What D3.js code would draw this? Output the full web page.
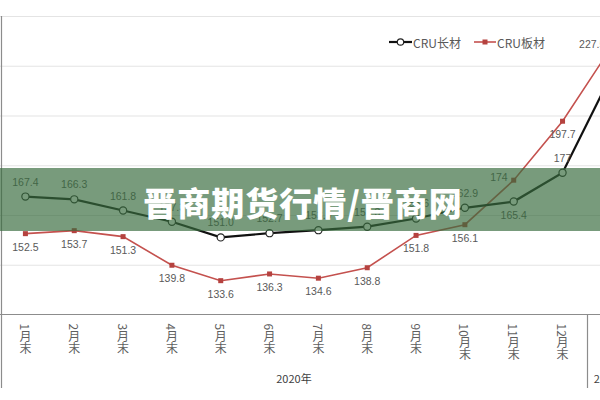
<!DOCTYPE html>
<html><head><meta charset="utf-8">
<script src="https://cdn.jsdelivr.net/npm/d3@7"></script>
<style>
html,body{margin:0;padding:0;background:#fff;}
svg{display:block;}
</style></head>
<body>
<svg id="chart" width="600" height="400"></svg>
<script>
// ---- data ----
const categories = ["1月末","2月末","3月末","4月末","5月末","6月末","7月末","8月末","9月末","10月末","11月末","12月末","1月末"];
const groupNames = ["2020年","2021年"];
const groupSizes = [12, 1];
const seriesNames = ["CRU长材","CRU板材"];
const longSteel = [167.4,166.3,161.8,157.3,151.0,152.7,153.9,155.3,158.6,162.9,165.4,177,216.4];
const flatSteel = [152.5,153.7,151.3,139.8,133.6,136.3,134.6,138.8,151.8,156.1,174,197.7,227.5];
const longLabels = ["167.4","166.3","161.8","157.3","151.0","152.7","153.9","155.3","158.6","162.9","165.4","177",""];
const flatLabels = ["152.5","153.7","151.3","139.8","133.6","136.3","134.6","138.8","151.8","156.1","174","197.7","227.5"];
const yTicks = [120,140,160,180,200,220,240];
const bannerText = "晋商期货行情/晋商网";

// label placement (style)
const longPos = ["t","t","t","t","t","t","t","t","t","t","b","t","t"];
const flatPos = ["b","b","b","b","b","b","b","b","b","b","l","b","l"];
const visibleCats = 12; // the 13th category lies beyond the right edge of the crop

const svg = d3.select("#chart");
const bandW = 48.83;
const x = d3.scaleBand().domain(d3.range(categories.length)).range([1, 1 + bandW*categories.length]).padding(0);
const cx = i => x(i) + x.bandwidth()/2;
const y = d3.scaleLinear().domain([120,240]).range([314.5,16]);

// gridlines
const grid = svg.append("g")
  .call(d3.axisLeft(y).tickValues(yTicks.slice(1)).tickSize(-620).tickFormat(""));
grid.select(".domain").remove();
grid.selectAll("line").attr("stroke","#e4e4e4").attr("stroke-width",1.2);

// x axis
const xAxisY = Math.round(y(120)) - 1;
const xa = svg.append("g").attr("transform",`translate(0,${xAxisY+0.5})`)
  .call(d3.axisBottom(x).tickSize(0).tickFormat(i => i < visibleCats ? categories[i] : ""));
xa.select(".domain").attr("stroke","#8c8c8c").attr("stroke-width",1.2).attr("d","M0,0H620");
xa.selectAll("text")
  .attr("y", 9).attr("x", 0).attr("dy", null)
  .style("writing-mode","vertical-rl")
  .attr("text-anchor","start")
  .attr("font-family","'Noto Sans CJK SC', sans-serif")
  .attr("font-size", 12)
  .attr("fill","#5f5f5f");

// group separators and labels
let acc = 0;
const sepX = [x(0)];
groupSizes.forEach((n,gi) => {
  const start = x(acc), end = x(acc+n-1) + x.bandwidth();
  sepX.push(end);
  svg.append("text").attr("x",(start+end)/2).attr("y",378)
    .attr("text-anchor","middle").attr("dominant-baseline","central")
    .attr("font-family","'Noto Sans CJK SC', sans-serif").attr("font-size",11)
    .attr("fill","#404040").text(groupNames[gi]);
  acc += n;
});
svg.selectAll("line.sep").data(sepX).enter().append("line")
  .attr("x1",d=>Math.round(d)+0.5).attr("x2",d=>Math.round(d)+0.5)
  .attr("y1",xAxisY).attr("y2",388)
  .attr("stroke","#8c8c8c").attr("stroke-width",1.2);
svg.append("line").attr("x1",1.5).attr("x2",1.5).attr("y1",16).attr("y2",xAxisY)
  .attr("stroke","#8c8c8c").attr("stroke-width",1.2);

// lines
const line = d3.line().x((d,i)=>cx(i)).y(d=>y(d));
const red = "#c4514e", black = "#111111";
svg.append("path").datum(flatSteel).attr("d",line).attr("fill","none")
  .attr("stroke",red).attr("stroke-width",1.6);
svg.append("path").datum(longSteel).attr("d",line).attr("fill","none")
  .attr("stroke",black).attr("stroke-width",2.2);

// markers
svg.selectAll("rect.fm").data(flatSteel).enter().append("rect")
  .attr("x",(d,i)=>cx(i)-2.5).attr("y",d=>y(d)-2.5).attr("width",5).attr("height",5)
  .attr("fill","#b5423f");
svg.selectAll("circle.lm").data(longSteel).enter().append("circle")
  .attr("cx",(d,i)=>cx(i)).attr("cy",d=>y(d)).attr("r",3.6)
  .attr("fill","#fff").attr("stroke","#222").attr("stroke-width",1.2);

// data labels
function placeLabels(vals, labels, pos) {
  svg.selectAll(null).data(vals).enter().filter((d,i)=>labels[i]!=="").append("text")
    .attr("x",(d,i)=> pos[i]==="l" ? cx(i)-6 : pos[i]==="r" ? cx(i)+6 : cx(i))
    .attr("y",(d,i)=> pos[i]==="t" ? y(d)-15 : pos[i]==="b" ? y(d)+13 : y(d)-3)
    .attr("text-anchor",(d,i)=> pos[i]==="l" ? "end" : pos[i]==="r" ? "start" : "middle")
    .attr("dominant-baseline","central")
    .attr("font-family","'Liberation Sans', Arial, sans-serif").attr("font-size",10.5)
    .attr("fill","#595959")
    .text((d,i)=>labels[i]);
}
placeLabels(longSteel, longLabels, longPos);
placeLabels(flatSteel, flatLabels, flatPos);

// legend
const lg = svg.append("g");
lg.append("line").attr("x1",389).attr("x2",412).attr("y1",42).attr("y2",42).attr("stroke",black).attr("stroke-width",2.2);
lg.append("circle").attr("cx",400.5).attr("cy",42).attr("r",3.2).attr("fill","#fff").attr("stroke","#222").attr("stroke-width",1.2);
lg.append("text").attr("x",413).attr("y",42).attr("dominant-baseline","central")
  .attr("font-family","'Noto Sans CJK SC', sans-serif").attr("font-size",12).attr("fill","#595959").text(seriesNames[0]);
lg.append("line").attr("x1",474).attr("x2",496).attr("y1",42).attr("y2",42).attr("stroke",red).attr("stroke-width",1.6);
lg.append("rect").attr("x",482.5).attr("y",39.5).attr("width",5).attr("height",5).attr("fill","#b5423f");
lg.append("text").attr("x",497).attr("y",42).attr("dominant-baseline","central")
  .attr("font-family","'Noto Sans CJK SC', sans-serif").attr("font-size",12).attr("fill","#595959").text(seriesNames[1]);

// watermark banner
svg.append("rect").attr("x",0).attr("y",168).attr("width",600).attr("height",63)
  .attr("fill","rgb(56,108,62)").attr("fill-opacity",0.68);
svg.append("text").attr("x",303).attr("y",202).attr("text-anchor","middle").attr("dominant-baseline","central")
  .attr("font-family","'Noto Sans CJK SC', sans-serif").attr("font-weight",900).attr("font-size",33)
  .attr("letter-spacing",1)
  .attr("fill","#fff").text(bannerText);
</script>
</body></html>
